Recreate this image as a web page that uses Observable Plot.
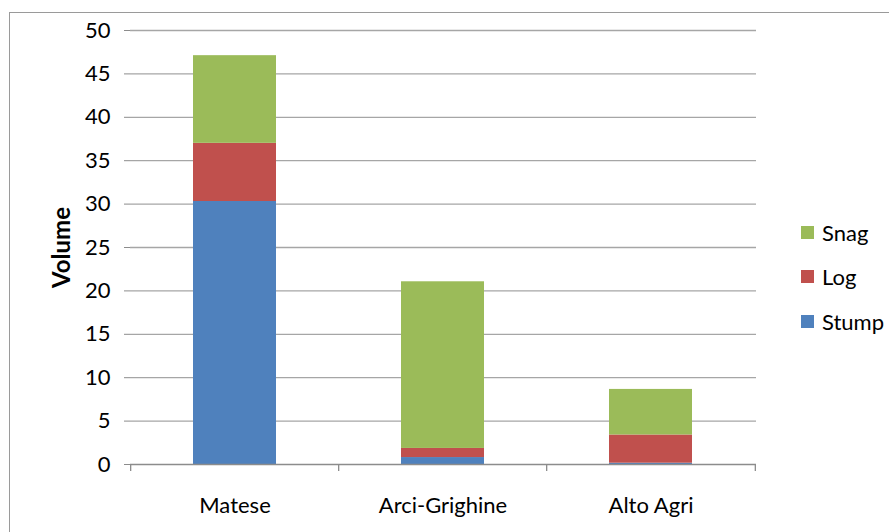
<!DOCTYPE html>
<html>
<head>
<meta charset="utf-8">
<script src="https://cdn.jsdelivr.net/npm/d3@7"></script>
<script src="https://cdn.jsdelivr.net/npm/@observablehq/plot@0.6"></script>
<style>
  html, body { margin: 0; padding: 0; background: #fff; }
  #wrap { position: relative; width: 889px; height: 532px; overflow: hidden; font-family: Lato, "Open Sans", sans-serif; }
  #border { position: absolute; left: 9px; top: 12px; width: 900px; height: 600px; border-left: 1.5px solid #9a9a9a; border-top: 1.5px solid #9a9a9a; }
  #chart { position: absolute; left: 0; top: 0; }
  #legend { position: absolute; left: 801px; top: 210px; font-size: 22px; color: #000; }
  #legend .item { display: flex; align-items: center; height: 44.5px; }
  #legend .sw { width: 13px; height: 13px; margin-right: 8px; }
  #chart svg text { font-size: 22px; }
  #chart g[aria-label="y-axis label"] text { font-weight: bold; font-size: 24px; }
</style>
</head>
<body>
<div id="wrap">
  <div id="border"></div>
  <div id="chart"></div>
  <div id="legend"></div>
</div>
<script>
const sites = ["Matese", "Arci-Grighine", "Alto Agri"];
const components = ["Stump", "Log", "Snag"];
const stump = [30.3, 0.8, 0.15];
const log = [6.7, 1.05, 3.25];
const snag = [10.1, 19.2, 5.25];
const colors = ["#4F81BD", "#C0504D", "#9BBB59"];
const yTicks = [0, 5, 10, 15, 20, 25, 30, 35, 40, 45, 50];

const series = [stump, log, snag];
const data = [];
sites.forEach((s, i) => components.forEach((c, j) => data.push({site: s, comp: c, value: series[j][i]})));

const W = 889, H = 532, mL = 130, mR = 133, mT = 30, mB = 68;
const step = (W - mL - mR) / (sites.length - 0.6 + 0.6);

const chart = Plot.plot({
  width: W, height: H,
  marginLeft: mL, marginRight: mR, marginTop: mT, marginBottom: mB,
  style: {fontFamily: "Lato, 'Open Sans', sans-serif", fontSize: "22px", color: "#000", background: "transparent", overflow: "visible"},
  x: {domain: sites, paddingInner: 0.6, paddingOuter: 0.3, label: null},
  y: {domain: [0, 50], label: null},
  color: {domain: components, range: colors},
  marks: [
    Plot.ruleY(yTicks.filter(d => d > 0), {stroke: "#a6a6a6", strokeWidth: 1.3}),
    Plot.barY(data, {x: "site", y: "value", fill: "comp", order: components}),
    Plot.ruleY([0], {stroke: "#8c8c8c", strokeWidth: 1.3}),
    Plot.ruleX([0], {frameAnchor: "left", y1: 0, y2: 50, stroke: "#8c8c8c", strokeWidth: 1.3}),
    Plot.ruleX(sites, {x: d => d, y1: 0, y2: 0, dx: -step / 2, insetBottom: -7, stroke: "#8c8c8c", strokeWidth: 1.3}),
    Plot.ruleX(sites.slice(-1), {x: d => d, y1: 0, y2: 0, dx: step / 2, insetBottom: -7, stroke: "#8c8c8c", strokeWidth: 1.3}),
    Plot.axisY({ticks: yTicks, tickSize: 6, tickPadding: 14, stroke: "#8c8c8c", fill: "#000", fontSize: 22,
      label: "Volume", labelAnchor: "center", labelArrow: "none", labelOffset: 78}),
    Plot.axisX({tickSize: 0, tickPadding: 33, fontSize: 22, fill: "#000"})
  ]
});
document.getElementById("chart").appendChild(chart);

const legend = document.getElementById("legend");
components.slice().reverse().forEach(c => {
  const item = document.createElement("div");
  item.className = "item";
  const sw = document.createElement("span");
  sw.className = "sw";
  sw.style.background = colors[components.indexOf(c)];
  const lab = document.createElement("span");
  lab.textContent = c;
  item.appendChild(sw); item.appendChild(lab);
  legend.appendChild(item);
});
</script>
</body>
</html>
